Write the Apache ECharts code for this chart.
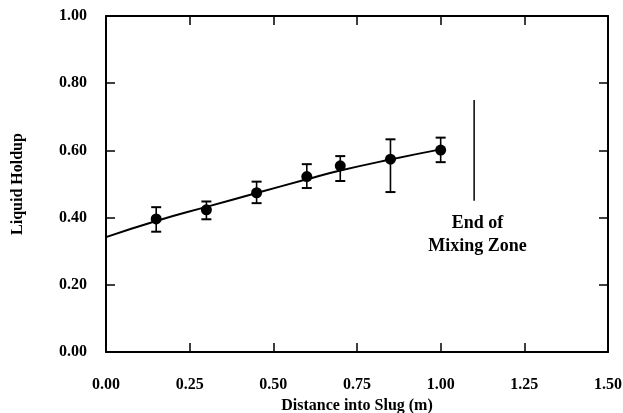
<!DOCTYPE html>
<html><head><meta charset="utf-8">
<script src="https://cdn.jsdelivr.net/npm/echarts@6/dist/echarts.min.js"></script>
<style>html,body{margin:0;padding:0;background:#fff}#c{width:623px;height:413px}</style>
</head><body><div id="c"></div>
<script>
// Measured data
const distance = [0.15, 0.30, 0.45, 0.60, 0.70, 0.85, 1.00];
const holdup   = [0.396, 0.423, 0.474, 0.522, 0.554, 0.574, 0.601];
const errLow   = [0.358, 0.395, 0.443, 0.488, 0.509, 0.476, 0.565];
const errHigh  = [0.431, 0.448, 0.507, 0.559, 0.583, 0.633, 0.638];
// Fitted curve
const fitX = [0.00, 0.15, 0.30, 0.45, 0.60, 0.70, 0.85, 1.00];
const fitY = [0.342, 0.390, 0.432, 0.473, 0.514, 0.540, 0.573, 0.603];
// End of mixing zone marker
const markerX = [1.10, 1.10];
const markerY = [0.45, 0.75];
const annotation = {x: 1.11, y: 0.350, text: 'End of\nMixing Zone'};

const FONT = '"Liberation Serif", "Times New Roman", serif';
const chart = echarts.init(document.getElementById('c'));

function axisCommon(showLabel, margin) {
  return {
    axisLine: {show: true, onZero: false, lineStyle: {color: '#000', width: 2}},
    axisTick: {show: true, inside: true, length: 9, lineStyle: {color: '#000', width: 1.5}},
    splitLine: {show: false},
    axisLabel: {show: showLabel, margin: margin || 8, color: '#000', fontFamily: FONT, fontWeight: 'bold', fontSize: 16,
      formatter: v => v.toFixed(2)}
  };
}
const nameStyle = {color: '#000', fontFamily: FONT, fontWeight: 'bold', fontSize: 16};

chart.setOption({
  animation: false,
  backgroundColor: '#fff',
  grid: {left: 106, right: 15, top: 16, bottom: 61, containLabel: false, outerBoundsMode: 'none'},
  xAxis: [
    Object.assign({type: 'value', min: 0, max: 1.5, interval: 0.25, position: 'bottom',
      name: 'Distance into Slug (m)', nameLocation: 'middle', nameGap: 43, nameTextStyle: nameStyle},
      axisCommon(true, 25)),
    Object.assign({type: 'value', min: 0, max: 1.5, interval: 0.25, position: 'top'}, axisCommon(false))
  ],
  yAxis: [
    Object.assign({type: 'value', min: 0, max: 1, interval: 0.2, position: 'left',
      name: 'Liquid Holdup', nameLocation: 'middle', nameGap: 80, nameTextStyle: nameStyle},
      axisCommon(true, 19)),
    Object.assign({type: 'value', min: 0, max: 1, interval: 0.2, position: 'right'}, axisCommon(false))
  ],
  series: [
    {
      type: 'line', xAxisIndex: 0, yAxisIndex: 0, smooth: true, symbol: 'none',
      data: fitX.map((x, i) => [x, fitY[i]]),
      lineStyle: {color: '#000', width: 2}, z: 2
    },
    {
      type: 'custom', xAxisIndex: 0, yAxisIndex: 0,
      data: distance.map((x, i) => [x, errLow[i], errHigh[i]]),
      renderItem: (params, api) => {
        const x = api.value(0);
        const pHi = api.coord([x, api.value(2)]);
        const pLo = api.coord([x, api.value(1)]);
        const w = 5;
        return {type: 'group', children: [
          {type: 'line', shape: {x1: pHi[0], y1: pHi[1], x2: pLo[0], y2: pLo[1]}, style: {stroke: '#000', lineWidth: 1.6}},
          {type: 'line', shape: {x1: pHi[0] - w, y1: pHi[1], x2: pHi[0] + w, y2: pHi[1]}, style: {stroke: '#000', lineWidth: 2}},
          {type: 'line', shape: {x1: pLo[0] - w, y1: pLo[1], x2: pLo[0] + w, y2: pLo[1]}, style: {stroke: '#000', lineWidth: 2}}
        ]};
      }, z: 3
    },
    {
      type: 'scatter', xAxisIndex: 0, yAxisIndex: 0, symbol: 'circle', symbolSize: 11,
      data: distance.map((x, i) => [x, holdup[i]]),
      itemStyle: {color: '#000', opacity: 1}, z: 4
    },
    {
      type: 'line', xAxisIndex: 0, yAxisIndex: 0, symbol: 'none',
      data: markerX.map((x, i) => [x, markerY[i]]),
      lineStyle: {color: '#000', width: 1.5}
    },
    {
      type: 'scatter', xAxisIndex: 0, yAxisIndex: 0, symbolSize: 1,
      data: [[annotation.x, annotation.y]],
      itemStyle: {color: 'rgba(0,0,0,0)', opacity: 1},
      label: {show: true, position: 'inside', formatter: annotation.text, color: '#000', opacity: 1,
        fontFamily: FONT, fontWeight: 'bold', fontSize: 18, lineHeight: 23, align: 'center'},
      silent: true
    }
  ]
});
</script>
</body></html>
